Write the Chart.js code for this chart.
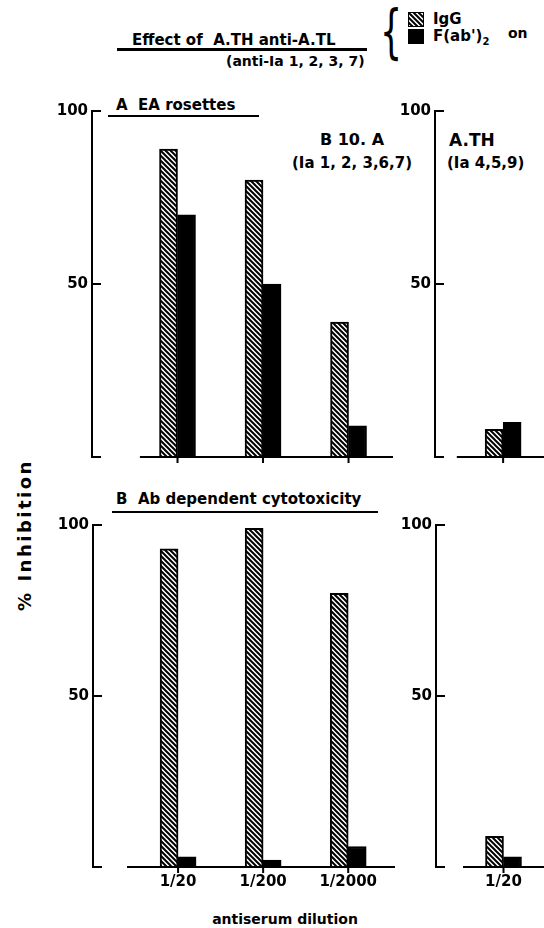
<!DOCTYPE html>
<html>
<head>
<meta charset="utf-8">
<script src="https://cdn.jsdelivr.net/npm/chart.js@4.4.1/dist/chart.umd.min.js"></script>
<style>
  body { margin: 0; width: 544px; height: 928px; position: relative; overflow: hidden; background: #fff;
         font-family: "DejaVu Sans", sans-serif; font-weight: bold; color: #000; }
  canvas { position: absolute; }
  .t { position: absolute; white-space: nowrap; line-height: 1; transform: translateY(-50%); }
  .c { transform: translate(-50%, -50%); }
  .ul { position: absolute; height: 2px; background: #000; }
  .sq { position: absolute; width: 16px; height: 15px; box-sizing: border-box; border: 1.5px solid #000; }
</style>
</head>
<body>
  <!-- heading -->
  <div class="t" style="left:132px;top:40px;font-size:15px">Effect of&nbsp; A.TH anti-A.TL</div>
  <div class="ul" style="left:117px;top:48px;width:250px;height:3px"></div>
  <div class="t" style="left:226px;top:61px;font-size:14px">(anti-Ia 1, 2, 3, 7)</div>
  <div class="t" style="left:380px;top:32px;font-size:58px;font-weight:normal;transform:translateY(-50%) scaleX(0.6);transform-origin:left center">{</div>
  <div class="sq" id="sqIgG" style="left:408px;top:12px"></div>
  <div class="sq" style="left:408px;top:29px;background:#000"></div>
  <div class="t" style="left:433px;top:19px;font-size:15px">IgG</div>
  <div class="t" style="left:433px;top:38px;font-size:15px">F(ab')<sub style="font-size:10px">2</sub></div>
  <div class="t" style="left:508px;top:33px;font-size:14px">on</div>

  <!-- panel labels -->
  <div class="t" style="left:116px;top:105px;font-size:15px">A&nbsp; EA rosettes</div>
  <div class="ul" style="left:108px;top:115px;width:151px"></div>
  <div class="t c" style="left:352px;top:140px;font-size:16px">B 10. A</div>
  <div class="t c" style="left:352px;top:163px;font-size:15px">(Ia 1, 2, 3,6,7)</div>
  <div class="t" style="left:449px;top:140px;font-size:17px">A.TH</div>
  <div class="t" style="left:447px;top:163px;font-size:15px">(Ia 4,5,9)</div>
  <div class="t" style="left:116px;top:499px;font-size:15px">B&nbsp; Ab dependent cytotoxicity</div>
  <div class="ul" style="left:112px;top:511px;width:266px"></div>

  <div class="t c" style="left:25px;top:535px;font-size:18px;letter-spacing:2.5px;transform:translate(-50%,-50%) rotate(-90deg)">% Inhibition</div>
  <div class="t c" style="left:285px;top:919px;font-size:14px">antiserum dilution</div>

  <canvas id="cA1" width="380" height="380" style="left:30px;top:95px"></canvas>
  <canvas id="cA2" width="149" height="380" style="left:395px;top:95px"></canvas>
  <canvas id="cB1" width="380" height="387" style="left:30px;top:510px"></canvas>
  <canvas id="cB2" width="149" height="387" style="left:395px;top:510px"></canvas>

<script>
  // antiserum dilutions
  const dilutions = ['1/20', '1/200', '1/2000'];
  const dilutionsATH = ['1/20'];
  const yTicks = [50, 100];

  // A  EA rosettes, % inhibition
  const rosIgG_B10A = [89, 80, 39];
  const rosFab_B10A = [70, 50, 9];
  const rosIgG_ATH = [8];
  const rosFab_ATH = [10];

  // B  Ab dependent cytotoxicity, % inhibition
  const adccIgG_B10A = [93, 99, 80];
  const adccFab_B10A = [3, 2, 6];
  const adccIgG_ATH = [9];
  const adccFab_ATH = [3];

  // hatch fill for IgG
  const tile = document.createElement('canvas');
  tile.width = 5; tile.height = 5;
  const tg = tile.getContext('2d');
  tg.fillStyle = '#fff';
  tg.fillRect(0, 0, 5, 5);
  tg.strokeStyle = '#000';
  tg.lineWidth = 2;
  tg.beginPath();
  tg.moveTo(-1, -1); tg.lineTo(6, 6);
  tg.moveTo(-6, -1); tg.lineTo(1, 6);
  tg.moveTo(4, -1); tg.lineTo(11, 6);
  tg.stroke();
  const hatch = tg.createPattern(tile, 'repeat');
  document.getElementById('sqIgG').style.backgroundImage = 'url(' + tile.toDataURL() + ')';

  const font = { family: 'DejaVu Sans', weight: 'bold', size: 15 };

  // axis stubs, baseline and x tick marks
  const framePlugin = {
    id: 'frame',
    afterDatasetsDraw(chart, args, opts) {
      const { ctx, chartArea, scales: { x, y } } = chart;
      const y0 = y.getPixelForValue(0);
      ctx.save();
      ctx.strokeStyle = '#000';
      ctx.lineWidth = 2;
      ctx.beginPath();
      [0, 50, 100].forEach(v => {
        const py = y.getPixelForValue(v);
        ctx.moveTo(chartArea.left, py);
        ctx.lineTo(chartArea.left + 9, py);
      });
      ctx.moveTo(x.getPixelForValue(opts.baseFrom), y0);
      ctx.lineTo(chartArea.right, y0);
      x.ticks.forEach(t => {
        const px = x.getPixelForValue(t.value);
        ctx.moveTo(px, y0);
        ctx.lineTo(px, y0 + 6);
      });
      ctx.stroke();
      ctx.restore();
    }
  };

  function makeChart(id, c) {
    return new Chart(document.getElementById(id), {
      type: 'bar',
      data: {
        datasets: [
          { label: 'IgG', data: c.igg.map((v, i) => ({ x: i, y: v })),
            backgroundColor: hatch, borderColor: '#000', borderWidth: 2, barThickness: 18 },
          { label: "F(ab')2", data: c.fab.map((v, i) => ({ x: i, y: v })),
            backgroundColor: '#000', borderColor: '#000', borderWidth: 2, barThickness: 18 }
        ]
      },
      options: {
        responsive: false,
        animation: false,
        events: [],
        layout: { padding: { top: c.padTop, right: c.padRight, left: 0, bottom: 0 } },
        plugins: {
          legend: { display: false },
          tooltip: { enabled: false },
          frame: { baseFrom: c.baseFrom }
        },
        scales: {
          x: {
            type: 'linear', min: c.xMin, max: c.xMax, offset: false,
            grid: { display: false, drawTicks: false },
            border: { display: false },
            afterBuildTicks: a => { a.ticks = c.labels.map((l, i) => ({ value: i })); },
            ticks: { display: c.showLabels, padding: 6, font: font, color: '#000',
                     callback: v => c.labels[v] },
            afterFit: a => { a.height = c.xHeight; }
          },
          y: {
            min: 0, max: 100,
            grid: { display: false, drawTicks: false },
            border: { display: true, color: '#000', width: 2 },
            afterBuildTicks: a => { a.ticks = yTicks.map(v => ({ value: v })); },
            ticks: { padding: 4, font: font, color: '#000' },
            afterFit: a => { a.width = c.yWidth; }
          }
        }
      },
      plugins: [framePlugin]
    });
  }

  makeChart('cA1', { igg: rosIgG_B10A, fab: rosFab_B10A, labels: dilutions, showLabels: false,
    xMin: -1, xMax: 2.52, baseFrom: -0.44, padTop: 16, padRight: 17, yWidth: 62, xHeight: 18 });
  makeChart('cA2', { igg: rosIgG_ATH, fab: rosFab_ATH, labels: dilutionsATH, showLabels: false,
    xMin: -1, xMax: 0.6, baseFrom: -0.68, padTop: 16, padRight: 0, yWidth: 40, xHeight: 18 });
  makeChart('cB1', { igg: adccIgG_B10A, fab: adccFab_B10A, labels: dilutions, showLabels: true,
    xMin: -1, xMax: 2.55, baseFrom: -0.6, padTop: 15, padRight: 15, yWidth: 63, xHeight: 30 });
  makeChart('cB2', { igg: adccIgG_ATH, fab: adccFab_ATH, labels: dilutionsATH, showLabels: true,
    xMin: -1, xMax: 0.6, baseFrom: -0.6, padTop: 15, padRight: 0, yWidth: 41, xHeight: 30 });
</script>
</body>
</html>
